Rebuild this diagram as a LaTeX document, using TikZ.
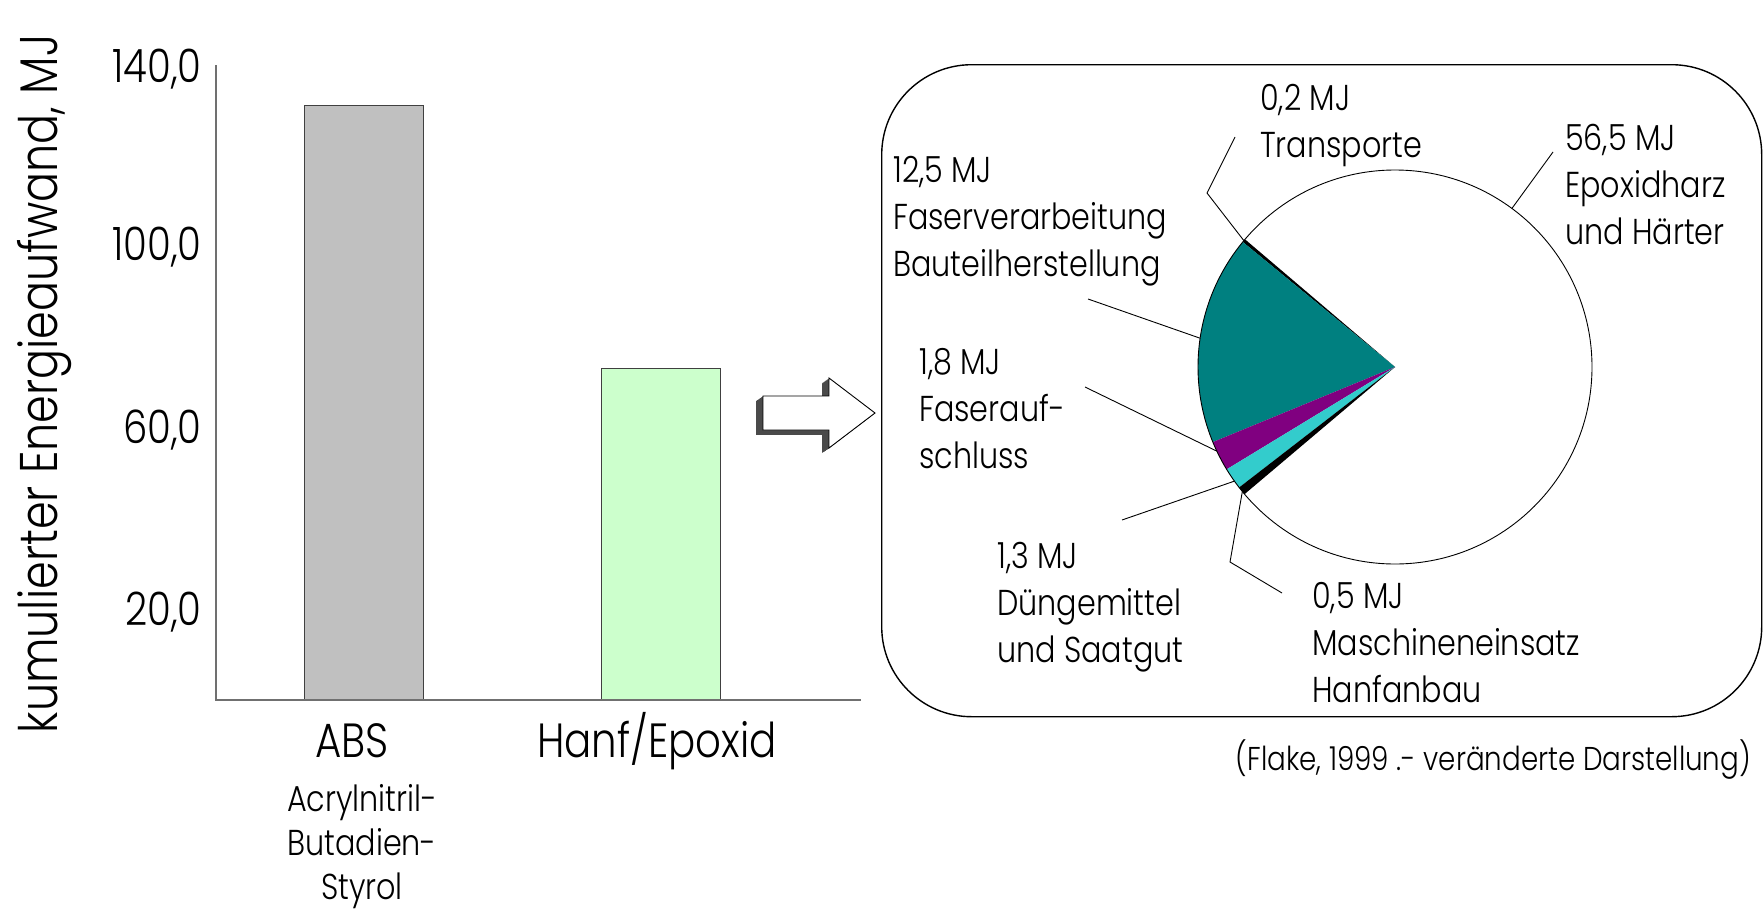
\documentclass[tikz,border=0pt]{standalone}
\usepackage{fontspec}
\setmainfont{Poppins Light}[FakeStretch=0.84]
\usetikzlibrary{calc}
\newcommand\fsz[2]{\fontsize{#1}{#2}\selectfont}
\definecolor{absgray}{HTML}{C0C0C0}
\definecolor{hanfgreen}{HTML}{CCFFCC}
\definecolor{axisgray}{HTML}{707070}
\definecolor{barline}{HTML}{404040}
\definecolor{pieteal}{HTML}{008080}
\definecolor{piepurple}{HTML}{800080}
\definecolor{piecyan}{HTML}{33CCCC}
\definecolor{shadowc}{HTML}{4A4A4A}
\begin{document}
\begin{tikzpicture}[x=1pt,y=-1pt,
  axisline/.style={draw=axisgray, line width=1.4pt},
  barbox/.style={draw=barline, line width=1.2pt, inner sep=0pt, anchor=south west},
  ticklbl/.style={inner sep=0pt, anchor=base east, font=\fsz{46}{50}},
  catlbl/.style={inner sep=0pt, anchor=base, font=\fsz{48}{52}},
  pielbl/.style={inner sep=0pt, anchor=base west, font=\fsz{36}{47}},
  leader/.style={draw=black, line width=0.9pt},
  arrowface/.style={fill=white, draw=black, line width=0.9pt},
  arrowshadow/.style={fill=shadowc},
]
\useasboundingbox (0,0) rectangle (1764,910);

% ---------- bar chart ----------
\coordinate (ytop) at (216,65);
\coordinate (orig) at (216,700);
\coordinate (xend) at (861,700);

\node[barbox, fill=absgray, minimum width=119pt, minimum height=594pt] (absbar) at (304,700) {};
\node[barbox, fill=hanfgreen, minimum width=119pt, minimum height=331pt] (hanfbar) at (601,700) {};
\draw[axisline] (ytop) -- (orig) -- (xend);

\node[ticklbl] (t140) at (202,82) {140,0};
\node[ticklbl] (t100) at (202,260) {100,0};
\node[ticklbl] (t60) at (202,443) {60,0};
\node[ticklbl] (t20) at (202,625) {20,0};

\node[rotate=90, inner sep=0pt, anchor=base, font=\fsz{53}{57}] (ytitle) at (57,384) {kumulierter Energieaufwand, MJ};

\node[catlbl] (abslbl) at (352,757) {ABS};
\node[catlbl] (hanflbl) at (657,757) {Hanf/Epoxid};
\node[inner sep=0pt, anchor=base] (absdesc) at (362,811)
  {\parbox[t]{220pt}{\centering\fsz{36}{44}Acrylnitril-\\Butadien-\\Styrol}};

% ---------- block arrow ----------
\foreach \i in {0.5,1,...,7}{
  \path[arrowshadow, shift={(-\i,0.7*\i)}]
    (763,396) -- (829,396) -- (829,378) -- (875,413) -- (829,448) -- (829,430) -- (763,430) -- cycle;
}
\path[arrowface] (763,396) -- (829,396) -- (829,378) -- (875,413) -- (829,448) -- (829,430) -- (763,430) -- cycle;

% ---------- pie panel ----------
\node[draw=black, line width=1.4pt, rounded corners=90pt, minimum width=880pt, minimum height=652pt,
      inner sep=0pt, anchor=north west] (piebox) at (881,64) {};

\begin{scope}[shift={(1395,367)}, x=1pt, y=1pt]
  \def\R{197}
  \fill[white] (0,0) circle (\R);
  \fill[black] (0,0) -- (139.6:\R) arc[start angle=139.6, end angle=140.6, radius=\R] -- cycle;
  \fill[pieteal] (0,0) -- (140.6:\R) arc[start angle=140.6, end angle=202.4, radius=\R] -- cycle;
  \fill[piepurple] (0,0) -- (202.4:\R) arc[start angle=202.4, end angle=211.3, radius=\R] -- cycle;
  \fill[piecyan] (0,0) -- (211.3:\R) arc[start angle=211.3, end angle=217.7, radius=\R] -- cycle;
  \fill[black] (0,0) -- (217.7:\R) arc[start angle=217.7, end angle=220.2, radius=\R] -- cycle;
  \draw[line width=0.9pt] (0,0) circle (\R);
  \coordinate (pT) at (140.1:\R);
  \coordinate (pE) at (53.6:\R);
  \coordinate (pF) at (171.6:\R);
  \coordinate (pA) at (205.3:\R);
  \coordinate (pD) at (215.4:\R);
  \coordinate (pM) at (219.2:\R);
\end{scope}

% labels
\node[pielbl] (lT) at (1260,110) {\parbox[t]{400pt}{\raggedright 0,2 MJ\\Transporte}};
\node[pielbl] (lE) at (1565,150) {\parbox[t]{400pt}{\raggedright 56,5 MJ\\Epoxidharz\\und Härter}};
\node[pielbl] (lF) at (893,182) {\parbox[t]{400pt}{\raggedright 12,5 MJ\\Faserverarbeitung\\Bauteilherstellung}};
\node[pielbl] (lA) at (919,374) {\parbox[t]{400pt}{\raggedright 1,8 MJ\\Faserauf-\\schluss}};
\node[pielbl] (lD) at (997,568) {\parbox[t]{400pt}{\raggedright 1,3 MJ\\Düngemittel\\und Saatgut}};
\node[pielbl] (lM) at (1312,608) {\parbox[t]{400pt}{\raggedright 0,5 MJ\\Maschineneinsatz\\Hanfanbau}};

\node[inner sep=0pt, anchor=base east, font=\fsz{33}{37}] (source) at (1751,770) {(Flake, 1999 .- veränderte Darstellung)};

% leader lines
\coordinate (eT1) at (1207,193);
\coordinate (eT2) at (1235,137);
\coordinate (eE) at (1553,152);
\coordinate (eF) at (1088,299);
\coordinate (eA) at (1085,387);
\coordinate (eD) at (1122,520);
\coordinate (eM1) at (1230,562);
\coordinate (eM2) at (1282,593);

\draw[leader] (pT) -- (eT1) -- (eT2);
\draw[leader] (pE) -- (eE);
\draw[leader] (pF) -- (eF);
\draw[leader] (pA) -- (eA);
\draw[leader] (pD) -- (eD);
\draw[leader] (pM) -- (eM1) -- (eM2);
\end{tikzpicture}
\end{document}
